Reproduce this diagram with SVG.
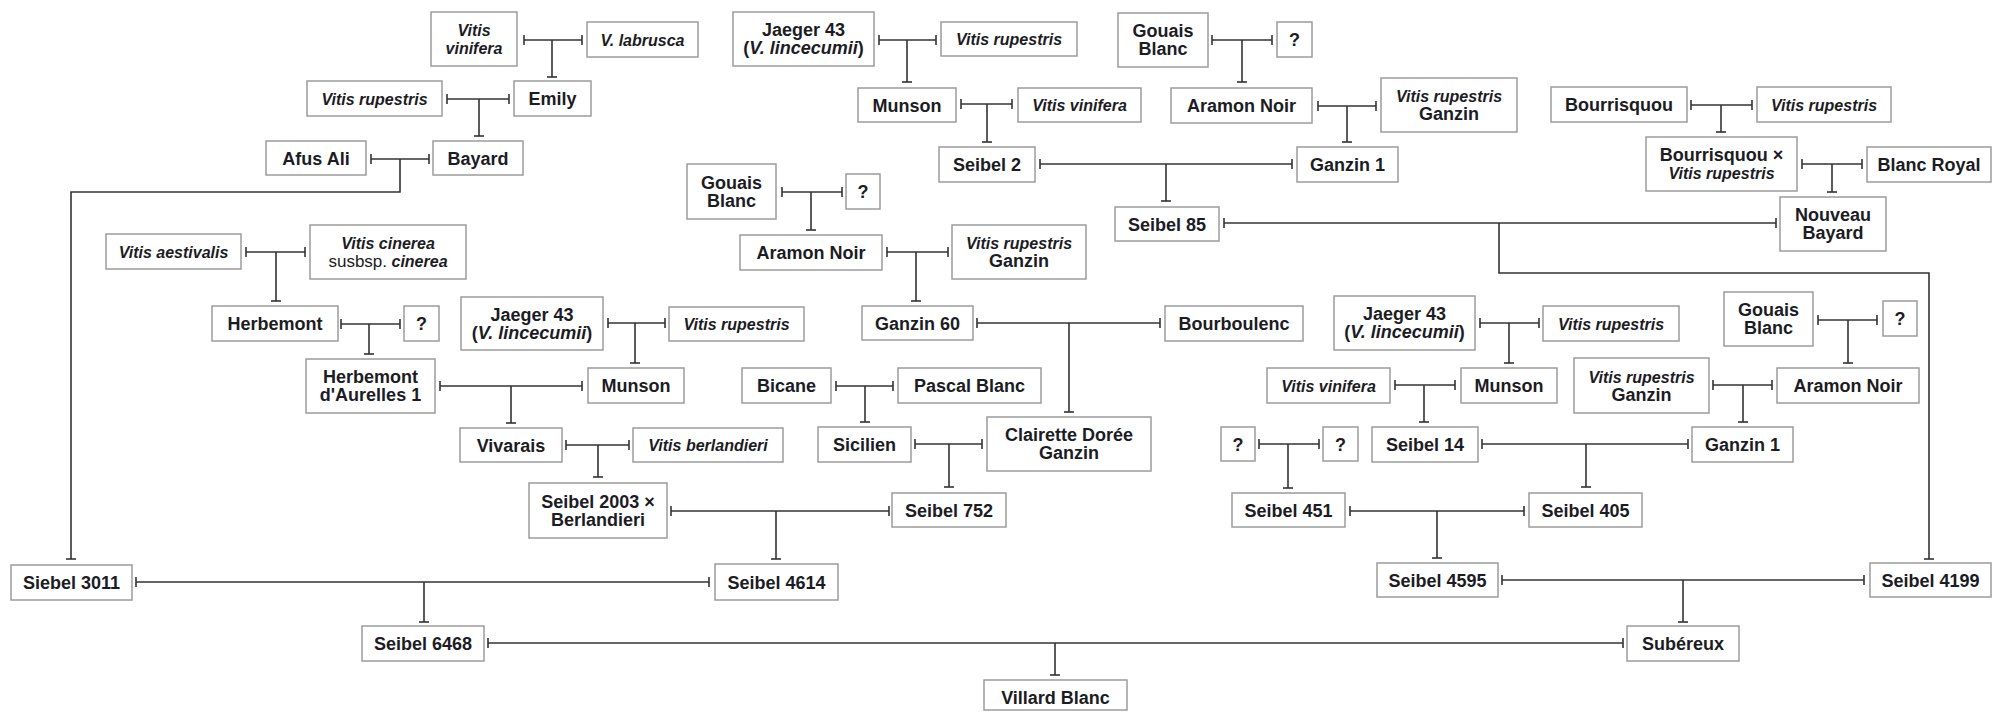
<svg xmlns="http://www.w3.org/2000/svg" width="1993" height="712" viewBox="0 0 1993 712">
<defs>
<marker id="t" viewBox="-2 -6 4 12" refX="0" refY="0" markerWidth="4" markerHeight="12" orient="auto" markerUnits="userSpaceOnUse" overflow="visible"><path d="M0,-5V5" stroke="#333" stroke-width="1.6" fill="none"/></marker>
<style>
rect{fill:#fff;stroke:#9c9c9c;stroke-width:1.5}
text{font-family:"Liberation Sans",Arial,sans-serif;fill:#1c1c24;text-anchor:middle}
.b{font-size:18px;font-weight:bold}
.i{font-size:16px;font-weight:bold;font-style:italic}
.n{font-weight:normal;font-style:normal}
.it{font-style:italic}
#conn line,#conn path{stroke:#333;stroke-width:1.6;fill:none}
#conn .h{marker-start:url(#t);marker-end:url(#t)}
#conn .v{marker-end:url(#t)}
</style>
</defs>
<rect x="0" y="0" width="1993" height="712" style="fill:#fff;stroke:none"/>
<g id="conn">
<line class="h" x1="524" y1="40" x2="582" y2="40"/><line class="v" x1="552" y1="40" x2="552" y2="77"/>
<line class="h" x1="447" y1="99" x2="509" y2="99"/><line class="v" x1="479" y1="99" x2="479" y2="136"/>
<line class="h" x1="371" y1="159" x2="429" y2="159"/><path class="v" d="M400,159V192H71V559"/>
<line class="h" x1="879" y1="40" x2="936" y2="40"/><line class="v" x1="907" y1="40" x2="907" y2="82"/>
<line class="h" x1="961" y1="104" x2="1012" y2="104"/><line class="v" x1="987" y1="104" x2="987" y2="142"/>
<line class="h" x1="1212" y1="40" x2="1272" y2="40"/><line class="v" x1="1242" y1="40" x2="1242" y2="82"/>
<line class="h" x1="1318" y1="106" x2="1376" y2="106"/><line class="v" x1="1347" y1="106" x2="1347" y2="142"/>
<line class="h" x1="1040" y1="164" x2="1292" y2="164"/><line class="v" x1="1166" y1="164" x2="1166" y2="201"/>
<line class="h" x1="1691" y1="105" x2="1752" y2="105"/><line class="v" x1="1721" y1="105" x2="1721" y2="132"/>
<line class="h" x1="1802" y1="164" x2="1862" y2="164"/><line class="v" x1="1832" y1="164" x2="1832" y2="192"/>
<line class="h" x1="1224" y1="223" x2="1776" y2="223"/><path class="v" d="M1499,223V273H1929V559"/>
<line class="h" x1="782" y1="192" x2="842" y2="192"/><line class="v" x1="811" y1="192" x2="811" y2="230"/>
<line class="h" x1="887" y1="252" x2="948" y2="252"/><line class="v" x1="916" y1="252" x2="916" y2="301"/>
<line class="h" x1="977" y1="323" x2="1160" y2="323"/><line class="v" x1="1069" y1="323" x2="1069" y2="412"/>
<line class="h" x1="246" y1="252" x2="305" y2="252"/><line class="v" x1="276" y1="252" x2="276" y2="301"/>
<line class="h" x1="341" y1="324" x2="400" y2="324"/><line class="v" x1="369" y1="324" x2="369" y2="354"/>
<line class="h" x1="440" y1="386" x2="582" y2="386"/><line class="v" x1="511" y1="386" x2="511" y2="423"/>
<line class="h" x1="608" y1="323" x2="665" y2="323"/><line class="v" x1="635" y1="323" x2="635" y2="363"/>
<line class="h" x1="566" y1="445" x2="629" y2="445"/><line class="v" x1="598" y1="445" x2="598" y2="477"/>
<line class="h" x1="836" y1="386" x2="893" y2="386"/><line class="v" x1="865" y1="386" x2="865" y2="422"/>
<line class="h" x1="915" y1="444" x2="982" y2="444"/><line class="v" x1="949" y1="444" x2="949" y2="487"/>
<line class="h" x1="671" y1="511" x2="889" y2="511"/><line class="v" x1="776" y1="511" x2="776" y2="559"/>
<line class="h" x1="136" y1="582" x2="709" y2="582"/><line class="v" x1="424" y1="582" x2="424" y2="622"/>
<line class="h" x1="488" y1="643" x2="1623" y2="643"/><line class="v" x1="1055" y1="643" x2="1055" y2="675"/>
<line class="h" x1="1480" y1="323" x2="1539" y2="323"/><line class="v" x1="1509" y1="323" x2="1509" y2="363"/>
<line class="h" x1="1395" y1="385" x2="1455" y2="385"/><line class="v" x1="1424" y1="385" x2="1424" y2="422"/>
<line class="h" x1="1259" y1="444" x2="1319" y2="444"/><line class="v" x1="1288" y1="444" x2="1288" y2="488"/>
<line class="h" x1="1482" y1="444" x2="1688" y2="444"/><line class="v" x1="1586" y1="444" x2="1586" y2="487"/>
<line class="h" x1="1818" y1="320" x2="1877" y2="320"/><line class="v" x1="1848" y1="320" x2="1848" y2="363"/>
<line class="h" x1="1713" y1="385" x2="1772" y2="385"/><line class="v" x1="1743" y1="385" x2="1743" y2="422"/>
<line class="h" x1="1350" y1="511" x2="1524" y2="511"/><line class="v" x1="1437" y1="511" x2="1437" y2="558"/>
<line class="h" x1="1502" y1="580" x2="1864" y2="580"/><line class="v" x1="1683" y1="580" x2="1683" y2="622"/>
</g>
<g id="n-vinifera1"><rect x="431" y="12" width="86" height="54"/><text class="i" x="474" y="36">Vitis<tspan x="474" dy="18">vinifera</tspan></text></g>
<g id="n-labrusca"><rect x="587" y="22" width="111" height="35"/><text class="i" x="642.5" y="45.5">V. labrusca</text></g>
<g id="n-rupestris1"><rect x="307" y="81" width="135" height="35"/><text class="i" x="374.5" y="104.5">Vitis rupestris</text></g>
<g id="n-emily"><rect x="514" y="81" width="77" height="35"/><text class="b" x="552.5" y="105">Emily</text></g>
<g id="n-afusali"><rect x="266" y="141" width="100" height="34"/><text class="b" x="316" y="164.5">Afus Ali</text></g>
<g id="n-bayard"><rect x="433" y="141" width="90" height="34"/><text class="b" x="478" y="164.5">Bayard</text></g>
<g id="n-jaeger1"><rect x="733" y="12" width="141" height="54"/><text class="b" x="803.5" y="36">Jaeger 43<tspan x="803.5" dy="18">(<tspan class="it">V. lincecumii</tspan>)</tspan></text></g>
<g id="n-rupestris2"><rect x="941" y="22" width="136" height="34"/><text class="i" x="1009" y="45">Vitis rupestris</text></g>
<g id="n-munson1"><rect x="858" y="88" width="98" height="34"/><text class="b" x="907" y="111.5">Munson</text></g>
<g id="n-vinifera2"><rect x="1018" y="88" width="123" height="34"/><text class="i" x="1079.5" y="111">Vitis vinifera</text></g>
<g id="n-seibel2"><rect x="939" y="147" width="96" height="35"/><text class="b" x="987" y="171">Seibel 2</text></g>
<g id="n-gouais1"><rect x="1118" y="13" width="90" height="54"/><text class="b" x="1163" y="37">Gouais<tspan x="1163" dy="18">Blanc</tspan></text></g>
<g id="n-q1"><rect x="1277" y="22" width="35" height="35"/><text class="b" x="1294.5" y="46">?</text></g>
<g id="n-aramon1"><rect x="1171" y="88" width="141" height="35"/><text class="b" x="1241.5" y="112">Aramon Noir</text></g>
<g id="n-rupganzin1"><rect x="1381" y="78" width="136" height="54"/><text class="i" x="1449" y="102">Vitis rupestris<tspan class="b n" x="1449" dy="18" style="font-weight:bold">Ganzin</tspan></text></g>
<g id="n-ganzin1a"><rect x="1297" y="147" width="101" height="35"/><text class="b" x="1347.5" y="171">Ganzin 1</text></g>
<g id="n-seibel85"><rect x="1115" y="207" width="104" height="34"/><text class="b" x="1167" y="230.5">Seibel 85</text></g>
<g id="n-bourrisquou"><rect x="1551" y="87" width="136" height="35"/><text class="b" x="1619" y="111">Bourrisquou</text></g>
<g id="n-rupestris3"><rect x="1757" y="87" width="134" height="35"/><text class="i" x="1824" y="110.5">Vitis rupestris</text></g>
<g id="n-bourxrup"><rect x="1646" y="137" width="151" height="54"/><text class="b" x="1721.5" y="161">Bourrisquou ×<tspan class="i" x="1721.5" dy="18">Vitis rupestris</tspan></text></g>
<g id="n-blancroyal"><rect x="1867" y="147" width="124" height="35"/><text class="b" x="1929" y="171">Blanc Royal</text></g>
<g id="n-nouveaubayard"><rect x="1780" y="197" width="106" height="54"/><text class="b" x="1833" y="221">Nouveau<tspan x="1833" dy="18">Bayard</tspan></text></g>
<g id="n-gouais2"><rect x="687" y="164" width="89" height="55"/><text class="b" x="731.5" y="189">Gouais<tspan x="731.5" dy="18">Blanc</tspan></text></g>
<g id="n-q2"><rect x="846" y="174" width="34" height="35"/><text class="b" x="863" y="198">?</text></g>
<g id="n-aramon2"><rect x="740" y="235" width="142" height="35"/><text class="b" x="811" y="259">Aramon Noir</text></g>
<g id="n-rupganzin2"><rect x="952" y="225" width="134" height="54"/><text class="i" x="1019" y="249">Vitis rupestris<tspan class="b n" x="1019" dy="18" style="font-weight:bold">Ganzin</tspan></text></g>
<g id="n-ganzin60"><rect x="862" y="306" width="111" height="34"/><text class="b" x="917.5" y="329.5">Ganzin 60</text></g>
<g id="n-bourboulenc"><rect x="1165" y="306" width="138" height="35"/><text class="b" x="1234" y="330">Bourboulenc</text></g>
<g id="n-aestivalis"><rect x="106" y="234" width="135" height="35"/><text class="i" x="173.5" y="257.5">Vitis aestivalis</text></g>
<g id="n-cinerea"><rect x="310" y="225" width="156" height="54"/><text class="i" x="388" y="249">Vitis cinerea<tspan x="388" dy="18"><tspan class="n" style="font-size:17px">susbsp.</tspan> cinerea</tspan></text></g>
<g id="n-herbemont"><rect x="212" y="306" width="126" height="35"/><text class="b" x="275" y="330">Herbemont</text></g>
<g id="n-q3"><rect x="404" y="306" width="35" height="35"/><text class="b" x="421.5" y="330">?</text></g>
<g id="n-herbdaur"><rect x="306" y="359" width="129" height="54"/><text class="b" x="370.5" y="383">Herbemont<tspan x="370.5" dy="18">d'Aurelles 1</tspan></text></g>
<g id="n-jaeger2"><rect x="461" y="297" width="142" height="53"/><text class="b" x="532" y="320.5">Jaeger 43<tspan x="532" dy="18">(<tspan class="it">V. lincecumii</tspan>)</tspan></text></g>
<g id="n-rupestris4"><rect x="669" y="307" width="135" height="34"/><text class="i" x="736.5" y="330">Vitis rupestris</text></g>
<g id="n-munson2"><rect x="588" y="368" width="96" height="35"/><text class="b" x="636" y="392">Munson</text></g>
<g id="n-vivarais"><rect x="460" y="428" width="102" height="34"/><text class="b" x="511" y="451.5">Vivarais</text></g>
<g id="n-berlandieri"><rect x="633" y="428" width="150" height="34"/><text class="i" x="708" y="451">Vitis berlandieri</text></g>
<g id="n-bicane"><rect x="742" y="368" width="89" height="35"/><text class="b" x="786.5" y="392">Bicane</text></g>
<g id="n-pascal"><rect x="898" y="368" width="143" height="35"/><text class="b" x="969.5" y="392">Pascal Blanc</text></g>
<g id="n-sicilien"><rect x="818" y="427" width="93" height="35"/><text class="b" x="864.5" y="451">Sicilien</text></g>
<g id="n-clairette"><rect x="987" y="417" width="164" height="54"/><text class="b" x="1069" y="441">Clairette Dorée<tspan x="1069" dy="18">Ganzin</tspan></text></g>
<g id="n-s2003"><rect x="529" y="483" width="138" height="55"/><text class="b" x="598" y="507.5">Seibel 2003 ×<tspan x="598" dy="18">Berlandieri</tspan></text></g>
<g id="n-seibel752"><rect x="892" y="493" width="114" height="34"/><text class="b" x="949" y="516.5">Seibel 752</text></g>
<g id="n-seibel4614"><rect x="715" y="564" width="123" height="36"/><text class="b" x="776.5" y="588.5">Seibel 4614</text></g>
<g id="n-siebel3011"><rect x="11" y="565" width="121" height="35"/><text class="b" x="71.5" y="589">Siebel 3011</text></g>
<g id="n-seibel6468"><rect x="362" y="626" width="122" height="35"/><text class="b" x="423" y="650">Seibel 6468</text></g>
<g id="n-villard"><rect x="984" y="680" width="143" height="30"/><text class="b" x="1055.5" y="704">Villard Blanc</text></g>
<g id="n-jaeger3"><rect x="1334" y="296" width="141" height="54"/><text class="b" x="1404.5" y="320">Jaeger 43<tspan x="1404.5" dy="18">(<tspan class="it">V. lincecumii</tspan>)</tspan></text></g>
<g id="n-rupestris5"><rect x="1543" y="306" width="136" height="35"/><text class="i" x="1611" y="329.5">Vitis rupestris</text></g>
<g id="n-vinifera3"><rect x="1267" y="368" width="123" height="35"/><text class="i" x="1328.5" y="391.5">Vitis vinifera</text></g>
<g id="n-munson3"><rect x="1461" y="368" width="96" height="35"/><text class="b" x="1509" y="392">Munson</text></g>
<g id="n-q4"><rect x="1221" y="427" width="34" height="34"/><text class="b" x="1238" y="450.5">?</text></g>
<g id="n-q5"><rect x="1323" y="427" width="35" height="34"/><text class="b" x="1340.5" y="450.5">?</text></g>
<g id="n-seibel14"><rect x="1372" y="427" width="106" height="35"/><text class="b" x="1425" y="451">Seibel 14</text></g>
<g id="n-gouais3"><rect x="1724" y="292" width="89" height="54"/><text class="b" x="1768.5" y="316">Gouais<tspan x="1768.5" dy="18">Blanc</tspan></text></g>
<g id="n-q6"><rect x="1883" y="301" width="34" height="35"/><text class="b" x="1900" y="325">?</text></g>
<g id="n-rupganzin3"><rect x="1574" y="358" width="135" height="55"/><text class="i" x="1641.5" y="382.5">Vitis rupestris<tspan class="b n" x="1641.5" dy="18" style="font-weight:bold">Ganzin</tspan></text></g>
<g id="n-aramon3"><rect x="1777" y="368" width="142" height="35"/><text class="b" x="1848" y="392">Aramon Noir</text></g>
<g id="n-ganzin1b"><rect x="1692" y="427" width="101" height="35"/><text class="b" x="1742.5" y="451">Ganzin 1</text></g>
<g id="n-seibel451"><rect x="1232" y="493" width="113" height="34"/><text class="b" x="1288.5" y="516.5">Seibel 451</text></g>
<g id="n-seibel405"><rect x="1529" y="493" width="113" height="34"/><text class="b" x="1585.5" y="516.5">Seibel 405</text></g>
<g id="n-seibel4595"><rect x="1377" y="563" width="121" height="34"/><text class="b" x="1437.5" y="586.5">Seibel 4595</text></g>
<g id="n-seibel4199"><rect x="1870" y="563" width="121" height="34"/><text class="b" x="1930.5" y="586.5">Seibel 4199</text></g>
<g id="n-subereux"><rect x="1627" y="626" width="112" height="35"/><text class="b" x="1683" y="650">Subéreux</text></g>
</svg>
